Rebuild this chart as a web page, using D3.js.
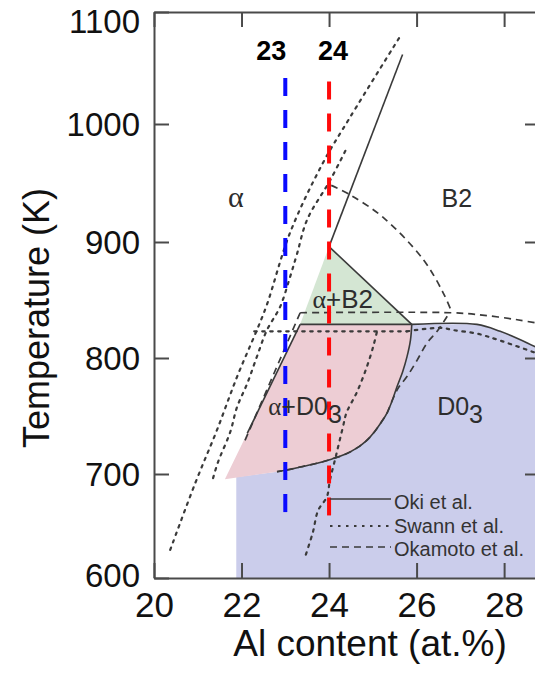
<!DOCTYPE html>
<html><head><meta charset="utf-8">
<script src="https://cdn.jsdelivr.net/npm/d3@7"></script>
<style>
html,body{margin:0;padding:0;background:#fff;}
svg{display:block;font-family:"Liberation Sans",Arial,Helvetica,sans-serif;}
</style></head><body>
<svg id="chart" width="535" height="674"></svg>
<script>
// ---- axis ticks ----
const xTicks = [20, 22, 24, 26, 28];
const yTicks = [600, 700, 800, 900, 1000, 1100];

// ---- phase boundaries, [Al at.%, T (K)] ----
// Oki et al. (solid)
const okiAlphaB2   = [[24.0, 896], [25.68, 1062]];
const okiB2Side    = [[24.0, 896], [25.89, 829]];
const okiEutectoid = [[23.34, 829], [25.89, 829]];
const okiAlphaD03  = [[23.34, 829], [22.13, 735]];
const okiD03Curve  = [[25.89, 829], [25.86, 815.5], [25.78, 801], [25.68, 788], [25.55, 775],
                      [25.45, 764], [25.33, 753], [25.20, 745], [25.03, 736], [24.85, 728.5],
                      [24.64, 722.5], [24.37, 717], [24.07, 713], [23.75, 709.5], [23.34, 706],
                      [23.04, 703.5], [22.81, 702]];
const okiD03Top    = [[25.89, 829], [27.38, 829], [27.91, 823], [28.53, 813], [28.9, 806]];

// Swann et al. (dotted)
const swannOuter   = [[20.37, 627], [20.94, 691], [21.44, 738], [21.90, 784], [22.35, 824],
                      [22.58, 846], [23.11, 908], [23.86, 967], [24.48, 1006], [25.62, 1078]];
const swannInner   = [[21.35, 696], [21.46, 710], [21.74, 736], [21.90, 758], [22.13, 778],
                      [22.35, 801], [22.58, 824], [22.88, 844], [23.11, 870], [23.27, 890],
                      [23.50, 919], [24.02, 952], [24.41, 980]];
const swannEutect  = [[22.29, 823], [25.78, 823]];
const swannD03     = [[25.09, 822], [25.01, 810], [24.86, 792], [24.63, 770], [24.40, 753],
                      [24.32, 741], [24.16, 716], [24.02, 694], [23.95, 678], [23.75, 665],
                      [23.63, 644], [23.45, 620]];
const swannD03Top  = [[25.78, 823], [26.55, 826], [26.85, 824], [27.38, 821], [27.91, 815], [28.9, 802]];

// Okamoto et al. (dashed)
const okaArc       = [[24.05, 948], [24.48, 940], [25.23, 921], [26.15, 885], [26.61, 856], [26.81, 839]];
const okaFlat      = [[23.34, 839], [26.81, 839], [27.5, 837], [28.3, 833], [28.9, 829]];
const okaD03       = [[26.70, 836], [26.47, 823], [26.24, 813], [26.01, 798], [25.78, 784], [25.58, 774],
                      [25.45, 764], [25.33, 753], [25.20, 745], [25.03, 736], [24.85, 728.5],
                      [24.64, 722.5], [24.37, 717], [24.07, 713], [23.75, 709.5], [23.34, 706],
                      [23.04, 703.5], [22.81, 702]];
const okaAlpha     = [[23.34, 839], [22.08, 729]];

// ---- phase fields (fills) ----
const fieldAlphaD03 = [[21.62, 695], [23.34, 829], ...okiD03Curve, [21.62, 695]];
const fieldAlphaB2  = [[23.34, 829], [24.0, 896], [25.89, 829]];
const fieldD03      = [[21.88, 600], [21.88, 697], ...okiD03Curve.slice().reverse(), ...okiD03Top.slice(1), [28.9, 600]];

// ---- compositions of the two alloys ----
const alloyAl    = [23, 24];
const alloyLabel = ["23", "24"];
const alloyTop   = [1041, 1038];
const alloyBot   = [651, 648];
const alloyColor = ["#0a0aff", "#ff0a0a"];

// ---- legend ----
const legendNames = ["Oki et al.", "Swann et al.", "Okamoto et al."];

const svg = d3.select("#chart");
const W = 535, H = 674;
svg.append("rect").attr("width", W).attr("height", H).attr("fill", "#fff");

const x = d3.scaleLinear().domain([20, 28.82]).range([154, 540]);
const y = d3.scaleLinear().domain(yTicks).range([578, 474, 358, 242, 124, 12]);

const line = d3.line().x(d => x(d[0])).y(d => y(d[1]));
const area = d3.line().x(d => x(d[0])).y(d => y(d[1])).curve(d3.curveLinearClosed);
const smooth = d3.line().x(d => x(d[0])).y(d => y(d[1])).curve(d3.curveCatmullRom.alpha(0.5));

const plot = svg.append("g");

// fills
plot.append("path").attr("d", area(fieldD03)).attr("fill", "#cbcdeb");
plot.append("path").attr("d", area(fieldAlphaD03)).attr("fill", "#edcdd4");
plot.append("path").attr("d", area(fieldAlphaB2)).attr("fill", "#d4e6d3");

const ink = "#3a3a3a";
const styles = {
  oki:   {dash: null,  w: 1.6},
  swann: {dash: "2.5,5.5", w: 2.2},
  oka:   {dash: "7,5", w: 1.7}
};
function draw(data, s, gen) {
  plot.append("path").attr("d", (gen || line)(data))
    .attr("fill", "none").attr("stroke", ink)
    .attr("stroke-width", styles[s].w)
    .attr("stroke-dasharray", styles[s].dash)
    .attr("stroke-linecap", s === "swann" ? "round" : "butt");
}

// Swann et al.
draw(swannOuter, "swann", smooth);
draw(swannInner, "swann", smooth);
draw(swannEutect, "swann");
draw(swannD03, "swann", smooth);
draw(swannD03Top, "swann", smooth);
// Okamoto et al.
draw(okaArc, "oka", smooth);
draw(okaFlat, "oka", smooth);
draw(okaD03, "oka", smooth);
draw(okaAlpha, "oka");
// Oki et al.
draw(okiAlphaB2, "oki");
draw(okiB2Side, "oki");
draw(okiEutectoid, "oki");
draw(okiAlphaD03, "oki");
draw(okiD03Curve, "oki", smooth);
draw(okiD03Top, "oki", smooth);

// alloy composition lines
alloyAl.forEach((a, i) => {
  plot.append("line")
    .attr("x1", x(a)).attr("x2", x(a))
    .attr("y1", y(alloyTop[i])).attr("y2", y(alloyBot[i]))
    .attr("stroke", alloyColor[i]).attr("stroke-width", 4)
    .attr("stroke-dasharray", "18,14");
});
svg.append("text").attr("x", x(alloyAl[0]) + 1).attr("y", 60)
  .attr("text-anchor", "end").attr("font-size", 27).attr("font-weight", "bold")
  .text(alloyLabel[0]);
svg.append("text").attr("x", x(alloyAl[1]) + 4).attr("y", 60)
  .attr("text-anchor", "middle").attr("font-size", 27).attr("font-weight", "bold")
  .text(alloyLabel[1]);

// phase field labels
const lab = "#2d2d2d";
function fieldLabel(px, py, main, sub, size, anchor) {
  const t = svg.append("text").attr("x", x(px)).attr("y", y(py))
    .attr("font-size", size).attr("fill", lab).attr("text-anchor", anchor || "start");
  main.forEach(m => t.append("tspan").attr("font-family", m.f || null).text(m.s));
  if (sub) t.append("tspan").attr("dy", 8).text(sub);
}
fieldLabel(21.87, 930, [{s: "α", f: "'Liberation Serif',serif"}], null, 30, "middle");
fieldLabel(26.92, 930, [{s: "B2"}], null, 25, "middle");
fieldLabel(23.62, 843, [{s: "α", f: "'Liberation Serif',serif"}, {s: "+B2"}], null, 26);
fieldLabel(22.61, 751, [{s: "α", f: "'Liberation Serif',serif"}, {s: "+D0"}], "3", 25);
fieldLabel(26.47, 751, [{s: "D0"}], "3", 25);

// axes frame
const axisCol = "#4a4a4a";
const gx = svg.append("g").attr("transform", `translate(0,${y(600)})`)
  .call(d3.axisBottom(x).tickValues(xTicks).tickFormat(d3.format("d"))
    .tickSizeInner(-15).tickSizeOuter(0).tickPadding(14));
const gxTop = svg.append("g").attr("transform", `translate(0,${y(1100)})`)
  .call(d3.axisTop(x).tickValues(xTicks).tickFormat("").tickSizeInner(-15).tickSizeOuter(0));
const gy = svg.append("g").attr("transform", `translate(${x(20)},0)`)
  .call(d3.axisLeft(y).tickValues(yTicks).tickFormat(d3.format("d"))
    .tickSizeInner(-15).tickSizeOuter(0).tickPadding(14));
const gyR = svg.append("g").attr("transform", `translate(${x(28.82)},0)`)
  .call(d3.axisRight(y).tickValues(yTicks.slice(1, -1)).tickFormat("").tickSizeInner(-15).tickSizeOuter(0));
[gx, gxTop, gy, gyR].forEach(g => {
  g.select(".domain").attr("stroke", axisCol).attr("stroke-width", 2);
  g.selectAll(".tick line").attr("stroke", axisCol).attr("stroke-width", 2);
  g.selectAll(".tick text").attr("fill", "#111").attr("font-family", "'Liberation Sans',Arial,sans-serif");
});
gx.selectAll(".tick text").attr("font-size", 35);
gy.selectAll(".tick text").attr("font-size", 33)
  .attr("dy", d => d === 1100 ? "0.62em" : (d === 600 ? "0.25em" : "0.34em"));

// axis titles
svg.append("text").attr("x", 370).attr("y", 656).attr("text-anchor", "middle")
  .attr("font-size", 37).attr("fill", "#111").text("Al content (at.%)");
svg.append("text").attr("transform", "translate(49,318) rotate(-90)")
  .attr("text-anchor", "middle").attr("font-size", 36).attr("fill", "#111").text("Temperature (K)");

// legend
const legY = [499, 526, 547];
const legBase = [509, 533, 556];
const legKey = ["oki", "swann", "oka"];
legendNames.forEach((n, i) => {
  svg.append("line").attr("x1", 330).attr("x2", 391).attr("y1", legY[i]).attr("y2", legY[i])
    .attr("stroke", ink).attr("stroke-width", styles[legKey[i]].w)
    .attr("stroke-dasharray", styles[legKey[i]].dash);
  svg.append("text").attr("x", 394).attr("y", legBase[i]).attr("font-size", 20)
    .attr("fill", "#333").text(n);
});
</script>
</body></html>
